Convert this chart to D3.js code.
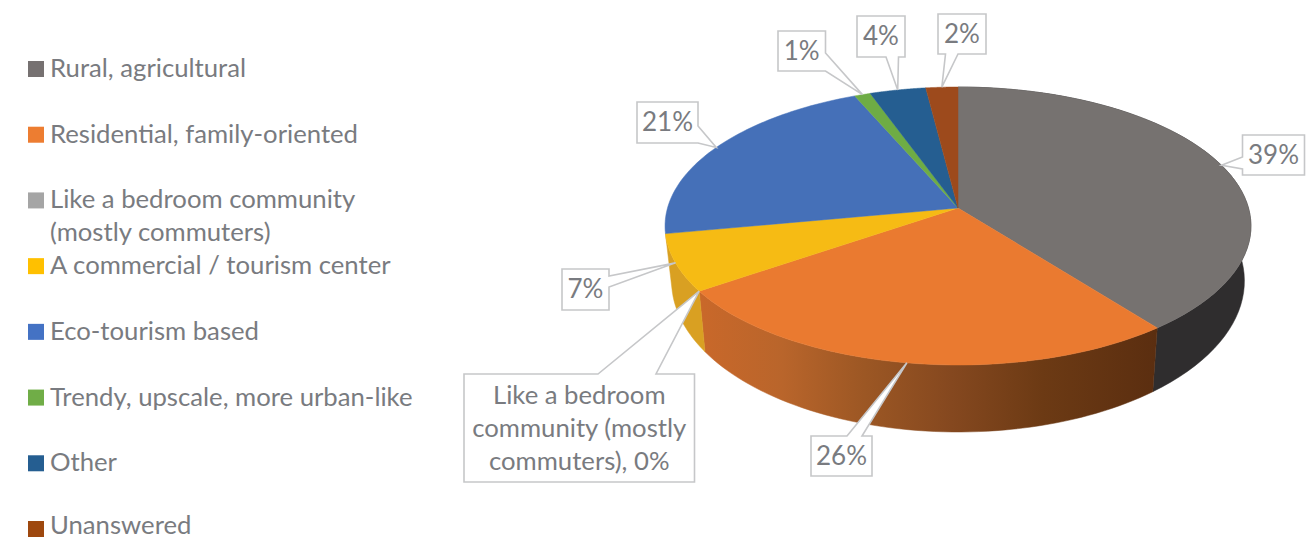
<!DOCTYPE html>
<html><head><meta charset="utf-8">
<script src="https://cdnjs.cloudflare.com/ajax/libs/d3/7.8.5/d3.min.js"></script>
<style>html,body{margin:0;padding:0;background:#fff}svg{display:block}text{font-family:Lato,sans-serif;fill:#797b80}</style>
</head><body><svg id="c" width="1306" height="540"></svg>
<script>
const categories = ["Rural, agricultural","Residential, family-oriented","Like a bedroom community (mostly commuters)","A commercial / tourism center","Eco-tourism based","Trendy, upscale, more urban-like","Other","Unanswered"];
const legendLines = [["Rural, agricultural"],["Residential, family-oriented"],["Like a bedroom community","(mostly commuters)"],["A commercial / tourism center"],["Eco-tourism based"],["Trendy, upscale, more urban-like"],["Other"],["Unanswered"]];
const values = [39.4,26,0,6.6,21.4,1,3.5,2];
const legendColors = ["#767171","#ED7D31","#A5A5A5","#FFC000","#4472C4","#70AD47","#255E91","#9E480E"];
const faceColors = ["#767270","#ea7a30","#A5A5A5","#f6bb14","#4570b8","#6eac45","#255e91","#9d4a1c"];
const wallColors = ["#2f2d2e","url(#orangeWall)","#888","#d9a022","#34558c","#527f33","#1b4569","#74350a"];

const svg = d3.select("#c");
const defs = svg.append("defs");
const grad = defs.append("linearGradient").attr("id","orangeWall").attr("gradientUnits","userSpaceOnUse")
  .attr("x1",700).attr("x2",1157).attr("y1",0).attr("y2",0);
[[0,"#c9682a"],[.18,"#b9652b"],[.36,"#9c5724"],[.55,"#85481f"],[.75,"#6c3a14"],[1,"#5b2e10"]]
  .forEach(([o,c])=>grad.append("stop").attr("offset",o).attr("stop-color",c));

// perspective projection of the pie's disc
const cx = 958, persp = -0.1295;
function project(theta, r, k, yc, ry){
  const u = r*Math.sin(theta), v = -r*Math.cos(theta), d = 1+persp*v;
  return [cx + k*u/d, yc + (ry*v + ry*persp)/d];
}
const topP = (t,r=1)=>project(t,r,290.5,226,139);
const botP = (t,r=1)=>project(t,r,284,281,151);
const pie = d3.pie().sort(null).value(d=>d);
const arcs = pie(values);
const line = d3.line();
const samples = (a,b)=>d3.range(0,61).map(i=>a+(b-a)*i/60);

// walls: only slices facing the viewer show a side
const walls = svg.append("g");
arcs.forEach((a,i)=>{
  if(a.value===0 || (a.startAngle+a.endAngle)/2 > 1.5*Math.PI) return;
  const ts = samples(a.startAngle,a.endAngle);
  walls.append("path")
    .attr("d",line(ts.map(t=>topP(t)).concat(ts.slice().reverse().map(t=>botP(t))))+"Z")
    .attr("fill",wallColors[i]).attr("stroke",wallColors[i]).attr("stroke-width",.5);
});
// faces
const faces = svg.append("g");
arcs.forEach((a,i)=>{
  if(a.value===0) return;
  const ts = samples(a.startAngle,a.endAngle);
  faces.append("path")
    .attr("d",line([topP(0,0)].concat(ts.map(t=>topP(t))))+"Z")
    .attr("fill",faceColors[i]).attr("stroke",faceColors[i]).attr("stroke-width",.5);
});

// legend
const rowY = d3.scaleLinear().domain([0,7]).range([69,529]);
const fs = 25.7;
const lg = svg.append("g");
categories.forEach((c,i)=>{
  const y = rowY(i);
  lg.append("rect").attr("x",28).attr("y",y-8).attr("width",16).attr("height",16).attr("fill",legendColors[i]);
  legendLines[i].forEach((t,j)=>lg.append("text").attr("x",50).attr("y",Math.min(y+8+j*33,534)).attr("font-size",fs).text(t));
});

// callouts: box [x0,y0,x1,y1], side the pointer leaves from, and its base along that side
const callouts = [
 {i:0,box:[1242.5,135,1304.5,175],side:"left",base:[157,169]},
 {i:1,box:[811,436,872,476],side:"top",base:[847,862]},
 {i:2,box:[464,374,694.5,482],side:"top",base:[598,656],lines:["Like a bedroom","community (mostly","commuters), 0%"]},
 {i:3,box:[562,269,609,310],side:"right",base:[276,287]},
 {i:4,box:[637,102,698,143],side:"right",base:[126,143]},
 {i:5,box:[778,31,825.5,71],side:"right",base:[53,71]},
 {i:6,box:[857,16,905,57],side:"bottom",base:[886,898.5]},
 {i:7,box:[938,14,986,54],side:"bottom",base:[945.5,958]}
];
const lb = svg.append("g");
callouts.forEach(c=>{
  const a = arcs[c.i], [x0,y0,x1,y1] = c.box, [b0,b1] = c.base;
  const tip = topP((a.startAngle+a.endAngle)/2);
  const pts = [[x0,y0]];
  if(c.side==="top") pts.push([b0,y0],tip,[b1,y0]);
  pts.push([x1,y0]);
  if(c.side==="right") pts.push([x1,b0],tip,[x1,b1]);
  pts.push([x1,y1]);
  if(c.side==="bottom") pts.push([b1,y1],tip,[b0,y1]);
  pts.push([x0,y1]);
  if(c.side==="left") pts.push([x0,b1],tip,[x0,b0]);
  lb.append("path").attr("d",line(pts)+"Z").attr("fill","#fff").attr("stroke","#c6c7c9").attr("stroke-width",1.6);
  const txt = c.lines || [Math.round(a.value)+"%"];
  const mx=(x0+x1)/2, my=(y0+y1)/2;
  txt.forEach((t,j)=>lb.append("text").attr("x",mx).attr("y",my+8.5+(j-(txt.length-1)/2)*33)
    .attr("text-anchor","middle").attr("font-size",c.lines?fs:26).text(t));
});
</script></body></html>
